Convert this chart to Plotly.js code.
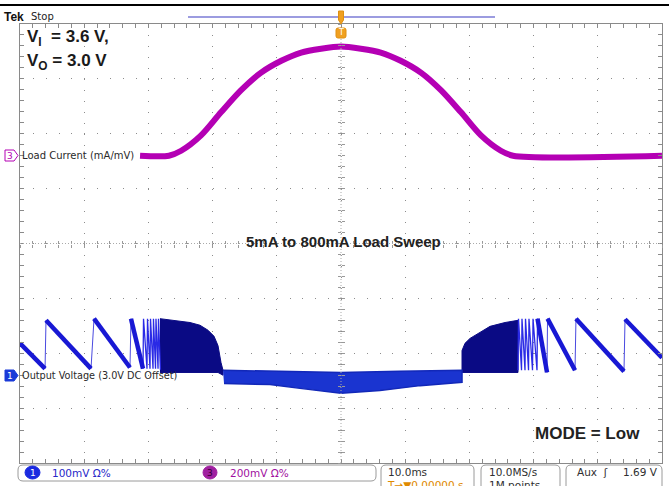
<!DOCTYPE html>
<html><head><meta charset="utf-8">
<script src="https://cdn.plot.ly/plotly-3.0.1.min.js"></script>
<style>html,body{margin:0;padding:0;background:#fff;}#chart{width:669px;height:486px;}</style>
</head><body><div id="chart"></div>
<script>
// ---- Data (time in ms, vertical in screen divisions) ----
const loadTimeMs = [-31.3, -26.8, -24.9, -21.8, -18.7, -15.6, -12.5, -9.3, -6.2, -3.1, 0, 3.1, 6.2, 9.3, 12.5, 15.6, 18.7, 21.8, 24.9, 26.8, 50];
const loadCurrentDiv = [1.60, 1.60, 1.69, 1.97, 2.39, 2.79, 3.11, 3.33, 3.48, 3.55, 3.59, 3.55, 3.48, 3.33, 3.11, 2.79, 2.39, 1.97, 1.69, 1.60, 1.60];

const sawLeftTime = [-50.0, -46.1, -45.95, -38.94, -38.47, -32.87, -32.71, -30.84];
const sawLeftDiv  = [-1.82, -2.28, -1.40, -2.28, -1.37, -2.26, -1.37, -2.28];

const spikeLeftTime = [-30.84, -30.76, -30.22, -30.14, -29.75, -29.67, -29.28, -29.21, -28.89, -28.82, -28.50, -28.43, -28.12];
const spikeLeftDiv  = [-2.28, -1.37, -2.28, -1.37, -2.28, -1.37, -2.28, -1.37, -2.28, -1.37, -2.28, -1.37, -2.30];

const burstLeftTopTime = [-28.2, -25.86, -23.52, -21.96, -20.72, -19.78, -19.16, -18.69, -18.38];
const burstLeftTopDiv  = [-1.37, -1.40, -1.44, -1.49, -1.58, -1.69, -1.86, -2.17, -2.31];
const burstLeftBotTime = [-28.2, -19.16, -18.38];
const burstLeftBotDiv  = [-2.35, -2.35, -2.40];

const bandTopTime = [-18.38, -9.50, 0, 9.19, 18.85];
const bandTopDiv  = [-2.31, -2.33, -2.35, -2.33, -2.31];
const bandBotTime = [-18.22, -11.06, -6.39, 0, 6.07, 12.31, 18.85];
const bandBotDiv  = [-2.55, -2.57, -2.64, -2.73, -2.68, -2.59, -2.53];

const burstRightTopTime = [18.85, 18.85, 19.31, 20.09, 21.65, 23.21, 25.55, 27.57];
const burstRightTopDiv  = [-2.31, -1.95, -1.82, -1.73, -1.62, -1.51, -1.44, -1.40];
const burstRightBotTime = [18.85, 27.57];
const burstRightBotDiv  = [-2.35, -2.35];

const spikeRightTime = [27.57, 27.65, 28.12, 28.19, 28.66, 28.74, 29.21, 29.28, 29.83, 29.91, 30.53, 30.61];
const spikeRightDiv  = [-2.31, -1.37, -2.31, -1.37, -2.31, -1.37, -2.31, -1.37, -2.31, -1.37, -2.31, -1.37];

const sawRightTime = [30.61, 32.09, 32.17, 36.45, 36.60, 44.08, 44.24, 50.0];
const sawRightDiv  = [-1.37, -2.35, -1.37, -2.31, -1.37, -2.33, -1.38, -2.08];

// ---- helpers ----
const W = 669, H = 486, L = 20, R = 7, T = 24, B = 23;
const PW = W - L - R, PH = H - T - B;
const px2x = p => (p - L) / PW;
const py2y = p => (H - B - p) / PH;

function polygon(tx, ty, bx, by) {
  return { x: tx.concat(bx.slice().reverse()), y: ty.concat(by.slice().reverse()) };
}
function rampsOnly(xs, ys) {
  const ox = [], oy = [];
  for (let i = 0; i < xs.length - 1; i++) {
    if (ys[i + 1] <= ys[i]) { ox.push(xs[i], xs[i + 1], null); oy.push(ys[i], ys[i + 1], null); }
  }
  return { x: ox, y: oy };
}

const BLUE = '#1818d4', DARK = '#0a0a84', BAND = '#1a34d0', MAG = '#b400b4';

const bl = polygon(burstLeftTopTime, burstLeftTopDiv, burstLeftBotTime, burstLeftBotDiv);
const bb = polygon(bandTopTime, bandTopDiv, bandBotTime, bandBotDiv);
const br = polygon(burstRightTopTime, burstRightTopDiv, burstRightBotTime, burstRightBotDiv);
const rl = rampsOnly(sawLeftTime, sawLeftDiv);
const rr2 = rampsOnly(sawRightTime, sawRightDiv);

const traces = [
  {x: bl.x, y: bl.y, mode: 'lines', fill: 'toself', fillcolor: DARK, line: {color: DARK, width: 1}, hoverinfo: 'skip'},
  {x: br.x, y: br.y, mode: 'lines', fill: 'toself', fillcolor: DARK, line: {color: DARK, width: 1}, hoverinfo: 'skip'},
  {x: bb.x, y: bb.y, mode: 'lines', fill: 'toself', fillcolor: BAND, line: {color: '#1228b8', width: 1.5}, hoverinfo: 'skip'},
  {x: spikeLeftTime, y: spikeLeftDiv, mode: 'lines', line: {color: '#2a2ae6', width: 1.3}},
  {x: spikeRightTime, y: spikeRightDiv, mode: 'lines', line: {color: '#2a2ae6', width: 1.3}},
  {x: sawLeftTime, y: sawLeftDiv, mode: 'lines', line: {color: '#4a4ae0', width: 1}},
  {x: sawRightTime, y: sawRightDiv, mode: 'lines', line: {color: '#4a4ae0', width: 1}},
  {x: rl.x, y: rl.y, mode: 'lines', line: {color: BLUE, width: 4.5}, connectgaps: false},
  {x: rr2.x, y: rr2.y, mode: 'lines', line: {color: BLUE, width: 4.5}, connectgaps: false},
  {x: loadTimeMs, y: loadCurrentDiv, mode: 'lines', line: {color: MAG, width: 6, shape: 'spline', smoothing: 0.8}},
  // dummy traces to realise the centre-line tick axes
  {x: [0], y: [0], xaxis: 'x2', yaxis: 'y', mode: 'markers', marker: {opacity: 0}, hoverinfo: 'skip'},
  {x: [0], y: [0], xaxis: 'x3', yaxis: 'y', mode: 'markers', marker: {opacity: 0}, hoverinfo: 'skip'},
  {x: [0], y: [0], xaxis: 'x', yaxis: 'y2', mode: 'markers', marker: {opacity: 0}, hoverinfo: 'skip'},
  {x: [0], y: [0], xaxis: 'x', yaxis: 'y3', mode: 'markers', marker: {opacity: 0}, hoverinfo: 'skip'}
];

const FRAME = '#8a8a8a', GRID = '#8c8c8c';
const centerTickAxis = (over, ticks) => ({
  overlaying: over, anchor: 'free', position: 0.5, range: over === 'x' ? [-50, 50] : [-4, 4],
  dtick: over === 'x' ? 2 : 0.2, tick0: 0, ticks: ticks, ticklen: 3, tickcolor: '#999',
  showticklabels: false, showgrid: false, zeroline: false, showline: false, fixedrange: true
});

function rrect(x0, y0, x1, y1, r) {
  const X = px2x, Y = py2y;
  return `M${X(x0 + r)},${Y(y0)} L${X(x1 - r)},${Y(y0)} Q${X(x1)},${Y(y0)} ${X(x1)},${Y(y0 + r)} ` +
         `L${X(x1)},${Y(y1 - r)} Q${X(x1)},${Y(y1)} ${X(x1 - r)},${Y(y1)} L${X(x0 + r)},${Y(y1)} ` +
         `Q${X(x0)},${Y(y1)} ${X(x0)},${Y(y1 - r)} L${X(x0)},${Y(y0 + r)} Q${X(x0)},${Y(y0)} ${X(x0 + r)},${Y(y0)} Z`;
}
function pathPx(pts) {
  return 'M' + pts.map(p => `${px2x(p[0])},${py2y(p[1])}`).join(' L') + ' Z';
}

const shapes = [
  {type: 'line', xref: 'paper', yref: 'paper', x0: px2x(0), x1: px2x(669), y0: py2y(5), y1: py2y(5), line: {color: '#000', width: 2}},
  {type: 'line', xref: 'paper', yref: 'paper', x0: px2x(188), x1: px2x(495), y0: py2y(17), y1: py2y(17), line: {color: '#9c9ce0', width: 2}},
  {type: 'line', xref: 'paper', yref: 'paper', x0: 0, x1: 1, y0: 0.5, y1: 0.5, line: {color: '#aaa', width: 1, dash: '1px,2px'}},
  {type: 'line', xref: 'paper', yref: 'paper', x0: 0.5, x1: 0.5, y0: 0, y1: 1, line: {color: '#aaa', width: 1, dash: '1px,2px'}},
  // trigger markers
  {type: 'path', xref: 'paper', yref: 'paper', path: pathPx([[338.5, 11], [343.5, 11], [343.5, 20], [341, 24], [338.5, 20]]), fillcolor: '#f0a020', line: {color: '#e09010', width: 1}},
  {type: 'path', xref: 'paper', yref: 'paper', path: rrect(336, 28, 346, 38, 2), fillcolor: '#f0a020', line: {color: '#e09010', width: 1}},
  // channel markers
  {type: 'path', xref: 'paper', yref: 'paper', path: pathPx([[5, 150], [14, 150], [18, 155.5], [14, 161], [5, 161]]), fillcolor: '#fff', line: {color: MAG, width: 1}},
  {type: 'path', xref: 'paper', yref: 'paper', path: pathPx([[5, 370], [14, 370], [18, 375.5], [14, 381], [5, 381]]), fillcolor: '#1a3ad8', line: {color: '#1a3ad8', width: 1}},
  // status boxes
  {type: 'path', xref: 'paper', yref: 'paper', path: rrect(18, 465, 376, 481, 5), fillcolor: 'rgba(0,0,0,0)', line: {color: '#9a9a9a', width: 1}},
  {type: 'path', xref: 'paper', yref: 'paper', path: rrect(381, 465, 474, 492, 5), fillcolor: 'rgba(0,0,0,0)', line: {color: '#9a9a9a', width: 1}},
  {type: 'path', xref: 'paper', yref: 'paper', path: rrect(481, 465, 560, 492, 5), fillcolor: 'rgba(0,0,0,0)', line: {color: '#9a9a9a', width: 1}},
  {type: 'path', xref: 'paper', yref: 'paper', path: rrect(566, 465, 662, 492, 5), fillcolor: 'rgba(0,0,0,0)', line: {color: '#9a9a9a', width: 1}},
  {type: 'circle', xref: 'paper', yref: 'paper', x0: px2x(25), x1: px2x(40), y0: py2y(466), y1: py2y(479), fillcolor: '#1a2ae0', line: {color: '#1a2ae0', width: 1}},
  {type: 'circle', xref: 'paper', yref: 'paper', x0: px2x(203), x1: px2x(217), y0: py2y(466), y1: py2y(479), fillcolor: '#a020a0', line: {color: '#a020a0', width: 1}}
];

const ann = (txt, xpx, ypx, opts) => Object.assign({
  text: txt, xref: 'paper', yref: 'paper', x: px2x(xpx), y: py2y(ypx), showarrow: false,
  xanchor: 'left', yanchor: 'middle', borderpad: 0,
  font: {family: 'DejaVu Sans', size: 10, color: '#2a2a2a'}
}, opts || {});

const annotations = [
  ann('<b>Tek</b>', 3, 17, {font: {family: 'Liberation Sans', size: 12, color: '#111'}}),
  ann('Stop', 30, 16, {font: {family: 'DejaVu Sans', size: 10, color: '#222'}}),
  ann('T', 341, 33, {xanchor: 'center', font: {family: 'DejaVu Sans', size: 8, color: '#fff'}}),
  ann('<b>V<sub>I</sub>  = 3.6 V,</b>', 26, 38, {font: {family: 'Liberation Sans', size: 17, color: '#1a1a1a'}}),
  ann('<b>V<sub>O</sub> = 3.0 V</b>', 26, 62, {font: {family: 'Liberation Sans', size: 17, color: '#1a1a1a'}}),
  ann('3', 10, 155.5, {xanchor: 'center', font: {family: 'DejaVu Sans', size: 9, color: MAG}}),
  ann('Load Current (mA/mV)', 21, 155.5),
  ann('1', 10, 375.5, {xanchor: 'center', font: {family: 'DejaVu Sans', size: 9, color: '#fff'}}),
  ann('Output Voltage (3.0V DC Offset)', 21, 375.5, {font: {family: 'DejaVu Sans', size: 9.7, color: '#2a2a2a'}}),
  ann('<b>5mA to 800mA Load Sweep</b>', 344, 242, {xanchor: 'center', font: {family: 'Liberation Sans', size: 15, color: '#222'}}),
  ann('<b>MODE = Low</b>', 587, 433, {xanchor: 'center', font: {family: 'Liberation Sans', size: 17, color: '#222'}}),
  ann('1', 32.5, 472.5, {xanchor: 'center', font: {family: 'DejaVu Sans', size: 9, color: '#fff'}}),
  ann('100mV Ω%', 51, 472.5, {font: {family: 'DejaVu Sans', size: 10.5, color: '#2828c8'}}),
  ann('3', 210, 472.5, {xanchor: 'center', font: {family: 'DejaVu Sans', size: 9, color: '#300030'}}),
  ann('200mV Ω%', 229, 472.5, {font: {family: 'DejaVu Sans', size: 10.5, color: '#a010a0'}}),
  ann('10.0ms', 387, 472, {font: {family: 'DejaVu Sans', size: 10.5, color: '#303030'}}),
  ann('T→▼0.00000 s', 386, 484.5, {font: {family: 'DejaVu Sans', size: 10.5, color: '#e08a00'}}),
  ann('10.0MS/s', 488, 472, {font: {family: 'DejaVu Sans', size: 10.5, color: '#303030'}}),
  ann('1M points', 488, 484.5, {font: {family: 'DejaVu Sans', size: 10.5, color: '#303030'}}),
  ann('Aux  ʃ', 576, 472, {font: {family: 'DejaVu Sans', size: 10.5, color: '#303030'}}),
  ann('1.69 V', 659, 472, {xanchor: 'right', font: {family: 'DejaVu Sans', size: 10.5, color: '#303030'}})
];

const layout = {
  width: W, height: H,
  margin: {l: L, r: R, t: T, b: B, pad: 0},
  paper_bgcolor: '#fff', plot_bgcolor: '#fff', showlegend: false,
  xaxis: {
    range: [-50, 50], dtick: 10, tick0: 0, showgrid: true, gridcolor: GRID, gridwidth: 1, griddash: '1px,9.98px',
    zeroline: false, showline: true, mirror: 'ticks', linecolor: FRAME, linewidth: 1,
    ticks: 'inside', ticklen: 4, tickcolor: FRAME, showticklabels: false, fixedrange: true,
    minor: {dtick: 2, tick0: 0, ticks: 'inside', ticklen: 4, tickcolor: FRAME, showgrid: false}
  },
  yaxis: {
    range: [-4, 4], dtick: 1, tick0: 0, showgrid: true, gridcolor: GRID, gridwidth: 1, griddash: '1px,11.84px',
    zeroline: false, showline: true, mirror: 'ticks', linecolor: FRAME, linewidth: 1,
    ticks: 'inside', ticklen: 4, tickcolor: FRAME, showticklabels: false, fixedrange: true,
    minor: {dtick: 0.2, tick0: 0, ticks: 'inside', ticklen: 4, tickcolor: FRAME, showgrid: false}
  },
  xaxis2: centerTickAxis('x', 'inside'),
  xaxis3: centerTickAxis('x', 'outside'),
  yaxis2: centerTickAxis('y', 'inside'),
  yaxis3: centerTickAxis('y', 'outside'),
  shapes: shapes,
  annotations: annotations
};

Plotly.newPlot('chart', traces, layout, {staticPlot: true, displayModeBar: false});
</script></body></html>
